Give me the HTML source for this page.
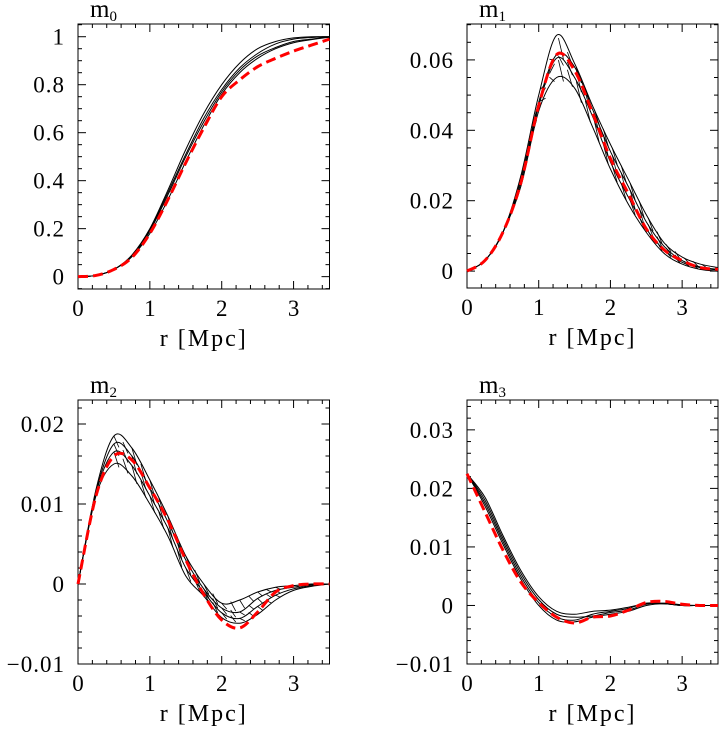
<!DOCTYPE html>
<html><head><meta charset="utf-8"><style>
html,body{margin:0;padding:0;background:#fff;}
svg{display:block;font-family:"Liberation Serif",serif;}
</style></head><body>
<svg id="c" width="719" height="729" xmlns="http://www.w3.org/2000/svg"></svg>
<script>
const radii=[0,0.25,0.5,0.75,1,1.25,1.5,1.75,2,2.25,2.5,2.75,3,3.25,3.5];
const m0Black=[
[0,0.005,0.03,0.09,0.2,0.36,0.53,0.68,0.8,0.89,0.95,0.98,0.995,1,1],
[0,0.005,0.03,0.088,0.195,0.35,0.51,0.66,0.78,0.87,0.93,0.97,0.99,0.997,1],
[0,0.005,0.03,0.085,0.19,0.34,0.5,0.645,0.77,0.86,0.92,0.955,0.98,0.99,1],
[0,0.005,0.03,0.083,0.18,0.32,0.48,0.63,0.76,0.85,0.91,0.95,0.975,0.988,0.998]];
const m0Red=[0,0.005,0.03,0.08,0.18,0.32,0.475,0.62,0.75,0.82,0.875,0.91,0.94,0.965,0.99];
const m1Black=[
[0,0.003,0.011,0.027,0.050,0.067,0.059,0.047,0.036,0.026,0.016,0.008,0.004,0.002,0.001],
[0,0.003,0.011,0.026,0.048,0.0615,0.058,0.046,0.034,0.024,0.014,0.007,0.003,0.0012,0.0005],
[0,0.003,0.011,0.025,0.047,0.0605,0.055,0.044,0.031,0.021,0.012,0.006,0.0025,0.001,0.0003],
[0,0.003,0.011,0.024,0.0455,0.055,0.052,0.041,0.029,0.019,0.011,0.005,0.002,0.0005,0]];
const m1Red=[0,0.003,0.011,0.025,0.047,0.0615,0.057,0.045,0.032,0.022,0.012,0.006,0.003,0.001,0.0005];
const m2Black=[
[0,0.0118,0.0185,0.017,0.013,0.0085,0.0035,0.0,-0.0024,-0.002,-0.001,-0.0004,-0.0002,0,0],
[0,0.0115,0.0175,0.016,0.012,0.0078,0.003,-0.0006,-0.003,-0.0035,-0.0018,-0.0008,-0.0004,-0.0001,0],
[0,0.0113,0.0165,0.0148,0.011,0.007,0.002,-0.001,-0.0036,-0.0043,-0.0028,-0.0014,-0.0006,-0.0002,0],
[0,0.011,0.015,0.0135,0.010,0.006,0.001,-0.0015,-0.0042,-0.0049,-0.0038,-0.002,-0.0008,-0.0003,0]];
const m2Red=[0,0.011,0.016,0.0155,0.012,0.008,0.003,-0.0013,-0.0045,-0.0055,-0.0035,-0.001,-0.0002,0,0];
const m3Black=[
[0.0225,0.0185,0.012,0.006,0.0015,-0.001,-0.0015,-0.001,-0.0008,-0.0003,0.0003,0.0003,0,0,0],
[0.0225,0.0175,0.011,0.005,0.0005,-0.002,-0.0025,-0.0015,-0.001,-0.0005,0.0004,0.0003,0,0,0],
[0.0225,0.018,0.0115,0.0055,0.001,-0.0015,-0.002,-0.0018,-0.0012,-0.0008,0.0002,0.0004,0.0001,0,0],
[0.0225,0.017,0.0105,0.0045,0,-0.0025,-0.0028,-0.002,-0.0015,-0.001,0,0.0003,0,0,0]];
const m3Red=[0.0225,0.016,0.0095,0.004,0.0005,-0.002,-0.003,-0.002,-0.0018,-0.0008,0.0005,0.0007,0.0002,0,0];
const xTicks=["0","1","2","3"];
const m0Ticks=["0","0.2","0.4","0.6","0.8","1"];
const m1Ticks=["0","0.02","0.04","0.06"];
const m2Ticks=["-0.01","0","0.01","0.02"];
const m3Ticks=["-0.01","0","0.01","0.02","0.03"];

const NS="http://www.w3.org/2000/svg";
const svg=document.getElementById('c');
function mk(t,a,p){const e=document.createElementNS(NS,t);for(const k in a)e.setAttribute(k,a[k]);(p||svg).appendChild(e);return e;}
function smooth(pts){let d='M'+pts[0][0].toFixed(2)+','+pts[0][1].toFixed(2);
  for(let i=0;i<pts.length-1;i++){const p0=pts[Math.max(0,i-1)],p1=pts[i],p2=pts[i+1],p3=pts[Math.min(pts.length-1,i+2)];
    const c1=[p1[0]+(p2[0]-p0[0])/6,p1[1]+(p2[1]-p0[1])/6],c2=[p2[0]-(p3[0]-p1[0])/6,p2[1]-(p3[1]-p1[1])/6];
    d+='C'+c1[0].toFixed(2)+','+c1[1].toFixed(2)+' '+c2[0].toFixed(2)+','+c2[1].toFixed(2)+' '+p2[0].toFixed(2)+','+p2[1].toFixed(2);}
  return d;}
function interp(arr,r){const s=r/0.25;const i=Math.min(Math.floor(s),radii.length-2);const f=s-i;return arr[i]*(1-f)+arr[i+1]*f;}

function panel(o){
  const g=mk('g',{});
  
  
  const X=v=>o.x0+v/3.5*(o.x1-o.x0);
  const Y=v=>o.y1-(v-o.ymin)/(o.ymax-o.ymin)*(o.y1-o.y0);
  const fr=mk('rect',{x:o.x0,y:o.y0,width:o.x1-o.x0,height:o.y1-o.y0,fill:'none',stroke:'#000','stroke-width':1},g);
  
  
  for(let i=0;i<=17;i++){const v=i*0.2;if(v>3.5)break;const maj=Math.abs(v-Math.round(v))<1e-6;const L=maj?8:4;const x=X(v);
    mk('line',{x1:x,y1:o.y1,x2:x,y2:o.y1-L,stroke:'#000'},g);mk('line',{x1:x,y1:o.y0,x2:x,y2:o.y0+L,stroke:'#000'},g);}
  xTicks.forEach(t=>{const e=mk('text',{x:X(+t),y:o.y1+27,'font-size':23,'text-anchor':'middle'},g);e.textContent=t;
    });
  const start=Math.ceil(o.ymin/o.minor-1e-6);
  for(let i=start;i*o.minor<=o.ymax+1e-9;i++){const v=i*o.minor;const r=v/o.major;const maj=Math.abs(r-Math.round(r))<1e-6;const L=maj?8:4;const y=Y(v);
    mk('line',{x1:o.x0,y1:y,x2:o.x0+L,y2:y,stroke:'#000'},g);mk('line',{x1:o.x1,y1:y,x2:o.x1-L,y2:y,stroke:'#000'},g);}
  o.ticks.forEach(t=>{const e=mk('text',{x:o.x0-13,y:Y(+t)+8,'font-size':23,'text-anchor':'end','letter-spacing':1},g);e.textContent=t.replace('-','\u2212');
    });
  const xl=mk('text',{x:(o.x0+o.x1)/2,y:o.y1+57,'font-size':24,'text-anchor':'middle','letter-spacing':2},g);xl.textContent='r [Mpc]';
  
  const tt=mk('text',{x:o.x0+12,y:o.y0-7,'font-size':25},g);tt.textContent='m';
  
  const sub=mk('tspan',{'font-size':15,dy:4},tt);sub.textContent=o.sub;
  const pathOf=arr=>smooth(arr.map((v,i)=>[X(radii[i]),Y(v)]));
  o.black.forEach((arr,k)=>{const p=mk('path',{d:pathOf(arr),fill:'none',stroke:'#000','stroke-width':1},g);
    });
  if(o.hatch){for(let r=o.hatch[0];r<=o.hatch[1];r+=0.125){for(let k=0;k<o.black.length-1;k++){
    const h=mk('line',{x1:X(r),y1:Y(interp(o.black[k],r)),x2:X(r+0.07),y2:Y(interp(o.black[k+1],r+0.07)),stroke:'#000','stroke-width':0.8},g);
    }}}
  const r=mk('path',{d:pathOf(o.red),fill:'none',stroke:'#f00','stroke-width':3,'stroke-dasharray':'10,5'},g);
  
}
panel({name:'m0',sub:'0',x0:78,x1:329.5,y0:24,y1:289,ymin:-0.0515,ymax:1.053,major:0.2,minor:0.05,ticks:m0Ticks,black:m0Black,red:m0Red});
panel({name:'m1',sub:'1',x0:467,x1:718,y0:24,y1:288,ymin:-0.0048,ymax:0.0702,major:0.02,minor:0.005,ticks:m1Ticks,black:m1Black,red:m1Red,hatch:[0.9,3.3]});
panel({name:'m2',sub:'2',x0:78,x1:329.5,y0:400,y1:664,ymin:-0.01,ymax:0.023,major:0.01,minor:0.002,ticks:m2Ticks,black:m2Black,red:m2Red,hatch:[0.5,2.8]});
panel({name:'m3',sub:'3',x0:467,x1:718,y0:400,y1:664,ymin:-0.01,ymax:0.0351,major:0.01,minor:0.002,ticks:m3Ticks,black:m3Black,red:m3Red});
</script>
</body></html>
